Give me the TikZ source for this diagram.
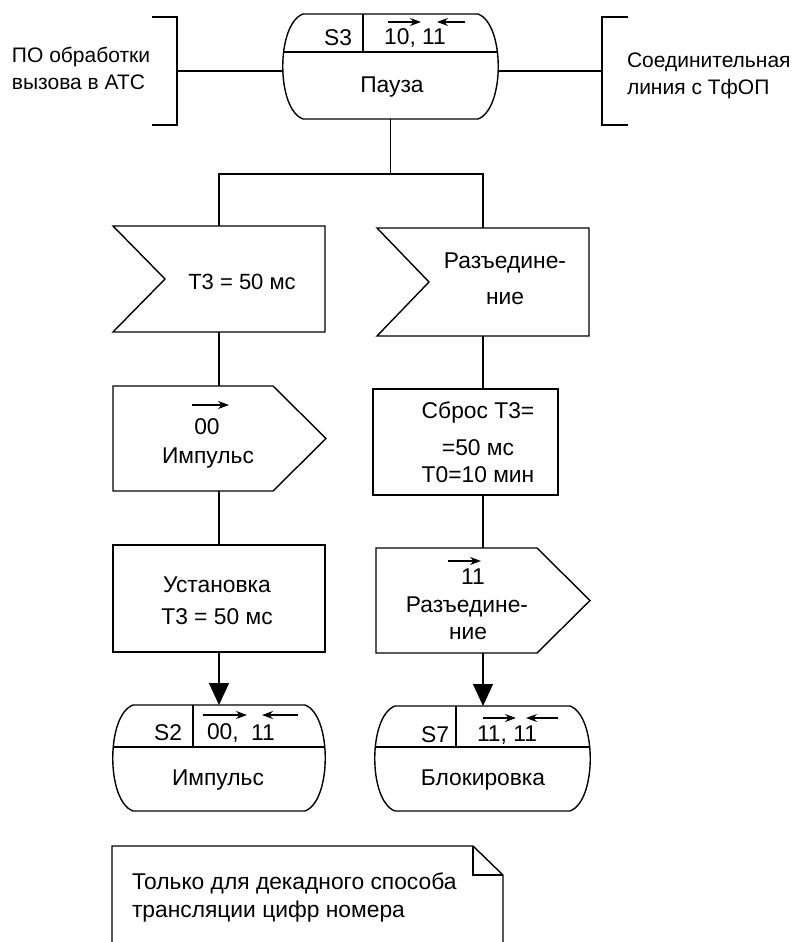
\documentclass[tikz,border=0pt]{standalone}
\usepackage{fontspec}
\setmainfont{Liberation Sans}
\usetikzlibrary{calc,arrows.meta}

% rounded state symbol with a header row: #1 node, #2 header depth, #3 divider offset
\newcommand\stateshape[3]{%
  \draw ($(#1.north west)+(20,0)$) -- ($(#1.north east)+(-20,0)$)
    .. controls ($(#1.north east)+(7,10)$) and ($(#1.south east)+(7,-10)$) .. ($(#1.south east)+(-20,0)$)
    -- ($(#1.south west)+(20,0)$)
    .. controls ($(#1.south west)+(-7,-10)$) and ($(#1.north west)+(-7,10)$) .. ($(#1.north west)+(20,0)$)
    -- cycle;
  \draw ($(#1.north west)+(0,#2)$) -- ($(#1.north east)+(0,#2)$);
  \draw ($(#1.north west)+(#3,0)$) -- ($(#1.north west)+(#3,#2)$);
}
% input signal: rectangle with a notch on the left
\newcommand\inshape[1]{%
  \draw (#1.north west) -- (#1.north east) -- (#1.south east) -- (#1.south west)
    -- ($(#1.west)+(52,0)$) -- cycle;
}
% output signal: rectangle with a pointed right side
\newcommand\outshape[1]{%
  \draw (#1.north west) -- ($(#1.north east)+(-53,0)$) -- (#1.east)
    -- ($(#1.south east)+(-53,0)$) -- (#1.south west) -- cycle;
}

\begin{document}
\begin{tikzpicture}[x=1pt,y=-1pt,
  line width=1.4pt,
  frame/.style n args={2}{draw=none,inner sep=0pt,outer sep=0pt,
    minimum width=#1pt,minimum height=#2pt},
  lbl/.style={inner sep=0pt,outer sep=0pt,align=center,
    font=\fontsize{22.8}{28}\selectfont},
  side/.style={inner sep=0pt,outer sep=0pt,align=left,anchor=west,
    font=\fontsize{21}{27}\selectfont},
  lbll/.style={lbl,align=left,anchor=west},
  tarr/.style={line width=1.3pt,-{Stealth[length=11pt,width=8pt]}},
  bigarr/.style={-{Triangle[width=20pt,length=22pt]}}]
\useasboundingbox (0,0) rectangle (810,942);

% block frames
\node[frame={215}{105}] (s3) at (390.5,66.5) {};
\node[frame={25}{108}] (lbr) at (164.5,71) {};
\node[frame={26}{108}] (rbr) at (615,71) {};
\node[frame={212}{106}] (t3) at (219,279) {};
\node[frame={212}{108}] (raz) at (483,282) {};
\node[frame={213}{105}] (imp) at (219.5,438.5) {};
\node[frame={185}{106}] (sbros) at (465.5,442) {};
\node[frame={212}{107}] (ust) at (219,598.5) {};
\node[frame={214}{105}] (out11) at (483,600.5) {};
\node[frame={212}{106}] (s2) at (219,758) {};
\node[frame={215}{105}] (s7) at (482.5,758.5) {};
\node[frame={391}{96}] (note) at (307.5,894) {};
\coordinate (br) at (390,174);

% outlines
\stateshape{s3}{38}{80}
\stateshape{s2}{42}{80}
\stateshape{s7}{41}{81}
\inshape{t3}
\inshape{raz}
\outshape{imp}
\outshape{out11}
\draw (ust.north west) rectangle (ust.south east);
\draw (sbros.north west) rectangle (sbros.south east);
\draw (lbr.north west) -- (lbr.north east) -- (lbr.south east) -- (lbr.south west);
\draw (rbr.north east) -- (rbr.north west) -- (rbr.south west) -- (rbr.south east);
\draw (note.south west) -- (note.north west) -- ($(note.north east)+(-30,0)$)
  -- ($(note.north east)+(0,29)$) -- (note.south east);
\draw ($(note.north east)+(-30,0)$) -- ($(note.north east)+(-30,29)$)
  -- ($(note.north east)+(0,29)$);

% connectors
\draw (lbr.east) -- (s3.west |- lbr.east);
\draw (s3.east |- rbr.west) -- (rbr.west);
\draw (s3.south) -- (s3.south |- br);
\draw (t3.north) -- (t3.north |- br) -- (raz.north |- br) -- (raz.north);
\draw (t3.south) -- (imp.north -| t3.south);
\draw (imp.south -| t3.south) -- (ust.north);
\draw[bigarr] (ust.south) -- (s2.north);
\draw (raz.south) -- (raz.south |- sbros.north);
\draw (raz.south |- sbros.south) -- (out11.north);
\draw[bigarr] (out11.south) -- (out11.south |- s7.north);

% side labels
\node[side] (lsys) at (12,68.5) {ПО обработки\\вызова в АТС};
\node[side] (rsys) at (627,76) {Соединительная\\линия с ТфОП};

% state S3
\node[lbl] (s3n) at (338,38) {S3};
\node[lbl] (s3s) at (415,38) {10, 11};
\node[lbl] (s3t) at (392,87) {Пауза};
\draw[tarr] (388,22) -- (421,22);
\draw[tarr] (465,22) -- (437,22);

% left branch
\node[lbl,font=\fontsize{22}{27}\selectfont] (t3t) at (242,282) {Т3 = 50 мс};
\draw[tarr] (192,405) -- (229,405);
\node[lbl] (impn) at (207,427) {00};
\node[lbl] (impt) at (208,458) {Импульс};
\node[lbl] (ust1) at (217,585) {Установка};
\node[lbl] (ust2) at (217,617) {Т3 = 50 мс};

% state S2
\node[lbl] (s2n) at (168,733) {S2};
\node[lbl,anchor=west] (s2a) at (207,733) {00,};
\node[lbl] (s2b) at (263,733) {11};
\node[lbl] (s2t) at (218,780) {Импульс};
\draw[tarr] (203,715) -- (247,715);
\draw[tarr] (298,715) -- (262,715);

% right branch
\node[lbl] (raz1) at (505,263) {Разъедине-};
\node[lbl] (raz2) at (505,298) {ние};
\node[lbl] (sb1) at (478,413) {Сброс Т3=};
\node[lbl] (sb2) at (478,448) {=50 мс};
\node[lbl] (sb3) at (478,475) {Т0=10 мин};
\draw[tarr] (448,561) -- (481,561);
\node[lbl] (o11n) at (473,577) {11};
\node[lbl] (o11a) at (467,607) {Разъедине-};
\node[lbl] (o11b) at (468,633) {ние};

% state S7
\node[lbl] (s7n) at (435,735) {S7};
\node[lbl] (s7s) at (507,735) {11, 11};
\node[lbl] (s7t) at (483,780) {Блокировка};
\draw[tarr] (483,718) -- (516,718);
\draw[tarr] (558,718) -- (526,718);

% comment
\node[lbll] (nt1) at (132,883) {Только для декадного способа};
\node[lbll] (nt2) at (132,912) {трансляции цифр номера};
\end{tikzpicture}
\end{document}
